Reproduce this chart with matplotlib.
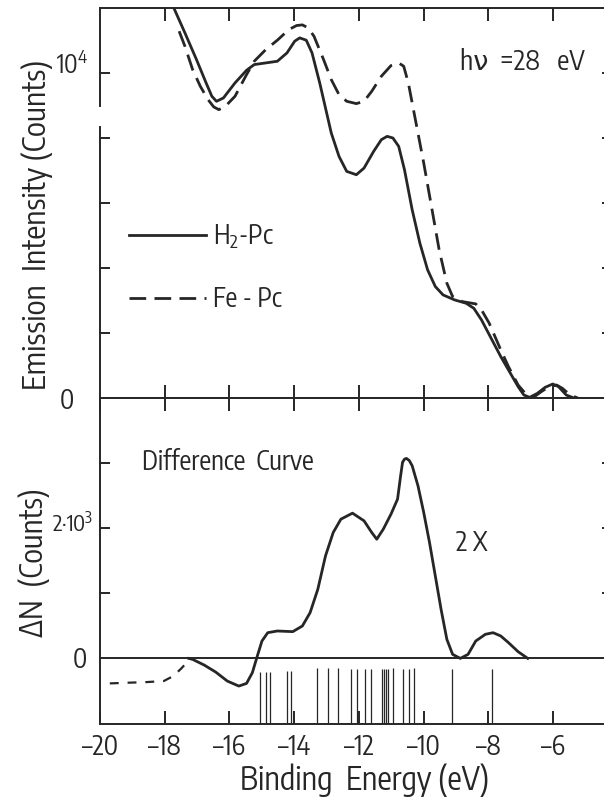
"""Photoemission spectra of H2-Pc and Fe-Pc at hv = 28 eV, with the
difference curve and the calculated level positions below it."""

import matplotlib as mpl
import matplotlib.pyplot as plt
import matplotlib.transforms as mtransforms
import numpy as np

mpl.rcParams["font.family"] = ["Encode Sans Condensed", "DejaVu Sans"]
mpl.rcParams["font.weight"] = "normal"
mpl.rcParams["mathtext.default"] = "regular"

INK = "#262626"

# upper panel: emission intensity (counts) vs binding energy (eV)
H2_E = [-17.733, -17.375, -17.018, -16.720, -16.542, -16.399, -16.185, -15.827,
        -15.470, -15.232, -14.875, -14.518, -14.220, -13.982, -13.827, -13.624,
        -13.446, -13.208, -12.851, -12.612, -12.374, -12.076, -11.838, -11.541,
        -11.303, -11.124, -10.945, -10.767, -10.588, -10.350, -10.112, -9.873,
        -9.635, -9.397, -9.040, -8.683, -8.445, -8.207, -7.909, -7.611, -7.313,
        -7.075, -6.897, -6.718, -6.480, -6.242, -6.004, -5.825, -5.587, -5.349]
H2_N = [12020, 11220, 10400, 9682, 9271, 9118, 9220, 9682,
        10071, 10246, 10297, 10348, 10605, 10964, 11066, 10995,
        10605, 9682, 8143, 7425, 6964, 6861, 7066, 7579,
        7938, 8041, 7989, 7733, 7015, 5784, 4758, 3938,
        3425, 3169, 3015, 2912, 2758, 2399, 1835, 1271, 758,
        348, 91, 20, 143, 327, 430, 348, 91, 0]

FE_E = [-17.554, -17.375, -17.137, -16.899, -16.661, -16.482, -16.327, -16.125,
        -15.827, -15.470, -15.232, -14.875, -14.518, -14.160, -13.922, -13.744,
        -13.565, -13.386, -13.089, -12.851, -12.612, -12.374, -12.076, -11.838,
        -11.600, -11.303, -11.005, -10.767, -10.612, -10.469, -10.231, -9.993,
        -9.754, -9.516, -9.278, -9.100, -8.802, -8.385, -8.207, -7.968, -7.611,
        -7.373, -7.075, -6.837, -6.599, -6.361, -6.123, -5.885, -5.706, -5.468,
        -5.230]
FE_N = [11272, 10810, 10092, 9579, 9169, 8943, 8861, 8964,
        9271, 9938, 10348, 10707, 10995, 11323, 11446, 11466,
        11374, 11118, 10400, 9784, 9323, 9118, 9046, 9118,
        9425, 9887, 10215, 10297, 10195, 9682, 8451, 7220,
        5887, 4553, 3528, 3117, 2963, 2892, 2707, 2297, 1476,
        963, 399, 122, 20, 194, 348, 399, 297, 91,
        0]

# lower panel: difference curve (2x)
DIFF_E = [-17.256, -17.137, -16.780, -16.423, -16.065, -15.708, -15.470, -15.291,
          -15.137, -14.994, -14.815, -14.518, -14.041, -13.744, -13.505, -13.267,
          -13.029, -12.791, -12.553, -12.195, -11.838, -11.600, -11.445, -11.243,
          -11.005, -10.802, -10.707, -10.648, -10.590, -10.528, -10.440, -10.350,
          -10.171, -9.993, -9.814, -9.635, -9.457, -9.278, -9.100, -8.861, -8.623,
          -8.385, -8.087, -7.849, -7.611, -7.373, -7.075, -6.777]
DIFF_N = [0, -15, -102, -210, -348, -425, -384, -220,
          36, 267, 395, 421, 411, 498, 703, 1062,
          1575, 1934, 2139, 2231, 2113, 1934, 1831, 1985,
          2216, 2447, 2806, 3011, 3060, 3072, 3040, 2959,
          2652, 2241, 1780, 1267, 754, 293, 62, 0, 62,
          267, 370, 395, 344, 242, 103, 0]

TAIL_E = [-19.697, -19.161, -18.566, -18.030, -17.733, -17.494, -17.256]
TAIL_N = [-384, -374, -364, -348, -271, -158, -30]

# calculated levels
STICK_E = [-15.054, -14.869, -14.745, -14.210, -14.096, -13.301, -12.943, -12.634,
           -12.241, -12.065, -11.799, -11.632, -11.292, -11.221, -11.159, -11.088,
           -10.934, -10.624, -10.458, -10.294, -9.119, -7.892]
STICK_TOP = [-205, -205, -205, -195, -195, -155, -150, -150,
             -170, -170, -160, -160, -170, -170, -170, -170,
             -150, -160, -160, -150, -170, -160]

X_TICKS = [-20, -18, -16, -14, -12, -10, -8, -6]


def main():
    W, H = 604, 798
    fig = plt.figure(figsize=(W / 100, H / 100), dpi=100)

    def add_axes_px(x0, y0, x1, y1):
        return fig.add_axes([x0 / W, 1 - y1 / H, (x1 - x0) / W, (y1 - y0) / H])

    x_right = -20 + (612 - 100) / 32.35
    ax1 = add_axes_px(100, 7.5, 612, 398)
    ax2 = add_axes_px(100, 398, 612, 723.5)

    lw = 2.0
    h2, = ax1.plot(H2_E, H2_N, color=INK, lw=lw, label="H$_2$-Pc")
    fe, = ax1.plot(FE_E, FE_N, color=INK, lw=lw, dashes=(6, 3), label="Fe - Pc")

    ax2.plot(DIFF_E, DIFF_N, color=INK, lw=lw)
    ax2.plot(TAIL_E, TAIL_N, color=INK, lw=1.6, dashes=(4, 4))
    ax2.vlines(STICK_E, -1000, STICK_TOP, color=INK, lw=0.9)
    ax2.axhline(0, color=INK, lw=1.4)

    for ax in (ax1, ax2):
        ax.set_xlim(-20, x_right)
        for s in ax.spines.values():
            s.set_linewidth(1.4)
            s.set_color(INK)
        ax.tick_params(axis="both", direction="in", color=INK, width=1.4,
                       top=True, bottom=True, left=True, right=True,
                       labelsize=19, labelcolor=INK)
        ax.tick_params(axis="x", length=9.5, pad=7)
        ax.tick_params(axis="y", length=7.5, labelleft=False)

    ax1.set_ylim(0, 12000)
    ax1.set_xticks(X_TICKS[1:])
    ax1.set_xticklabels([])
    ax1.set_yticks(np.arange(2000, 10001, 2000))

    ax2.set_ylim(-1000, 4000)
    ax2.set_xticks(X_TICKS)
    ax2.set_xticklabels([f"\u2013{abs(v)}" for v in X_TICKS])
    ax2.set_yticks([1000, 2000, 3000])

    # the scanned left axis of the upper panel is broken just below 10^4
    ax1.spines["left"].set_visible(False)
    ax1.axvline(-20, 0, 0.695, color=INK, lw=1.4, clip_on=False)
    ax1.axvline(-20, 0.749, 1, color=INK, lw=1.4, clip_on=False)

    b1 = mtransforms.blended_transform_factory(ax1.transAxes, ax1.transData)
    b2 = mtransforms.blended_transform_factory(ax2.transAxes, ax2.transData)
    ax1.text(-0.05, -100, "0", transform=b1, ha="right", va="center",
             fontsize=19, color=INK)
    ax1.text(-0.023, 10200, "10$^4$", transform=b1, ha="right", va="center",
             fontsize=18, color=INK)
    ax2.text(-0.014, 2050, "2\u00b710$^3$", transform=b2, ha="right",
             va="center", fontsize=16, color=INK)
    ax2.text(-0.025, -20, "0", transform=b2, ha="right", va="center",
             fontsize=19, color=INK)

    ax1.text(-0.124, 0.443, "Emission  Intensity (Counts)", transform=ax1.transAxes,
             rotation=90, ha="center", va="center", fontsize=22.5, color=INK)
    ax2.text(-0.128, 0.493, "\u0394N  (Counts)", transform=ax2.transAxes,
             rotation=90, ha="center", va="center", fontsize=22, color=INK)
    ax2.text(0.5176, -0.1736, "Binding  Energy (eV)", transform=ax2.transAxes,
             ha="center", va="center", fontsize=23, color=INK)

    ax1.text(0.703, 0.86, "h\u03bd  =28   eV", transform=ax1.transAxes,
             ha="left", va="center", fontsize=19.5, color=INK)
    ax2.text(0.083, 0.803, "Difference  Curve", transform=ax2.transAxes,
             ha="left", va="center", fontsize=19, color=INK)
    ax2.text(0.695, 0.555, "2 X", transform=ax2.transAxes,
             ha="left", va="center", fontsize=19, color=INK)

    ax1.legend(handles=[h2, fe], loc="upper left", bbox_to_anchor=(0.0566, 0.45),
               frameon=False, fontsize=19, handlelength=2.9, handletextpad=0.3,
               labelspacing=1.3, borderpad=0, borderaxespad=0,
               labelcolor=INK)

    fig.savefig("out.png", dpi=100)


if __name__ == "__main__":
    main()
